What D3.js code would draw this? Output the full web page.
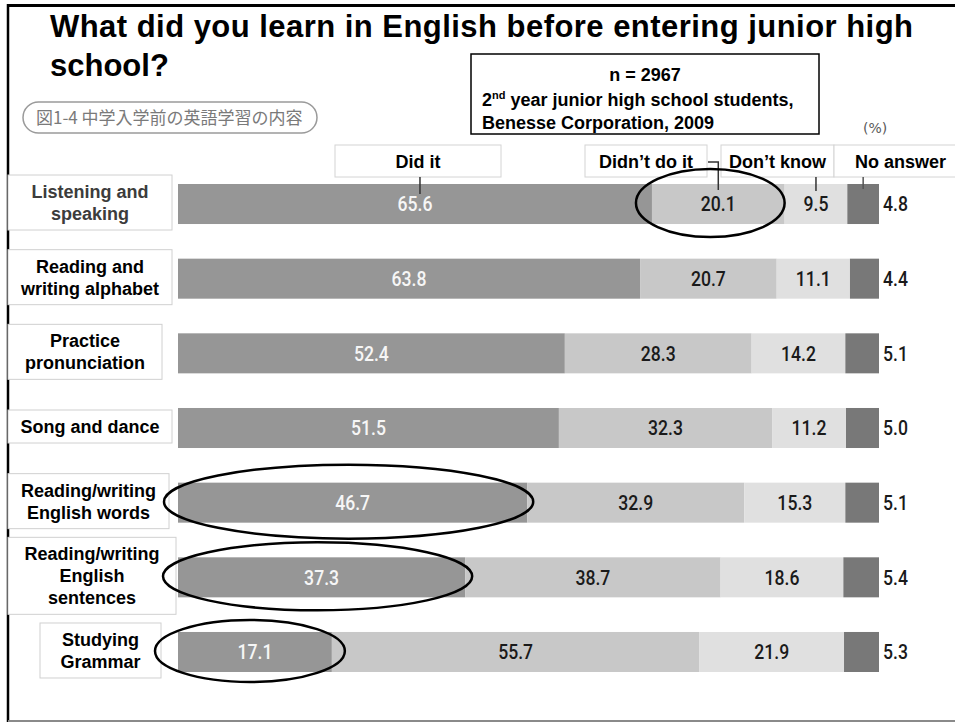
<!DOCTYPE html>
<html>
<head>
<meta charset="utf-8">
<script src="https://cdn.jsdelivr.net/npm/d3@7"></script>
<style>
  html, body { margin: 0; padding: 0; background: #fff; }
  svg { display: block; }
</style>
</head>
<body>
<svg id="chart" width="955" height="722"></svg>
<script>
// ---- data -------------------------------------------------------------
const categories = [
  "Listening and speaking",
  "Reading and writing alphabet",
  "Practice pronunciation",
  "Song and dance",
  "Reading/writing English words",
  "Reading/writing English sentences",
  "Studying Grammar"
];
const categoryLines = [
  ["Listening and", "speaking"],
  ["Reading and", "writing alphabet"],
  ["Practice", "pronunciation"],
  ["Song and dance"],
  ["Reading/writing", "English words"],
  ["Reading/writing", "English", "sentences"],
  ["Studying", "Grammar"]
];
const seriesNames = ["Did it", "Didn\u2019t do it", "Don\u2019t know", "No answer"];
const didIt    = [65.6, 63.8, 52.4, 51.5, 46.7, 37.3, 17.1];
const didntDo  = [20.1, 20.7, 28.3, 32.3, 32.9, 38.7, 55.7];
const dontKnow = [9.5, 11.1, 14.2, 11.2, 15.3, 18.6, 21.9];
const noAnswer = [4.8, 4.4, 5.1, 5.0, 5.1, 5.4, 5.3];

// circled segments: [category, series]
const highlights = [
  ["Listening and speaking", "Didn\u2019t do it"],
  ["Reading/writing English words", "Did it"],
  ["Reading/writing English sentences", "Did it"],
  ["Studying Grammar", "Did it"]
];

const titleLines = ["What did you learn in English before entering junior high", "school?"];
const figureTag = "\u56f31-4 \u4e2d\u5b66\u5165\u5b66\u524d\u306e\u82f1\u8a9e\u5b66\u7fd2\u306e\u5185\u5bb9";
const unitLabel = "(%)";

// ---- layout -----------------------------------------------------------
const svg = d3.select("#chart");
const W = 955, H = 722;
const ARIAL = "'Liberation Sans', Arial, Helvetica, sans-serif";
const NUMFONT = "Roboto, 'Liberation Sans', sans-serif";
const colors = ["#969696", "#c8c8c8", "#e0e0e0", "#787878"];

const x = d3.scaleLinear().domain([0, 100]).range([219, 879]);
const lead = 41;                       // first segment starts left of the zero line
const y = d3.scaleBand().domain(categories).range([184, 672])
  .paddingInner(0.464).paddingOuter(0);

const seriesValues = [didIt, didntDo, dontKnow, noAnswer];
const rows = categories.map((c, i) => {
  let acc = 0;
  const segs = seriesNames.map((s, k) => {
    const v = seriesValues[k][i];
    const seg = { category: c, series: s, k, value: v, x0: acc, x1: acc + v };
    acc += v;
    return seg;
  });
  return { category: c, i, segs };
});
const segLeft = d => d.k === 0 ? x(0) - lead : x(d.x0);
const segRight = d => x(d.x1);
const segMid = d => (segLeft(d) + segRight(d)) / 2;

// ---- frame ------------------------------------------------------------
svg.append("line").attr("x1", 7).attr("x2", W).attr("y1", 5.5).attr("y2", 5.5)
  .attr("stroke", "#000").attr("stroke-width", 3);
svg.append("line").attr("x1", 8).attr("x2", 8).attr("y1", 4).attr("y2", H)
  .attr("stroke", "#000").attr("stroke-width", 2.5);
svg.append("line").attr("x1", 8).attr("x2", W).attr("y1", 721).attr("y2", 721)
  .attr("stroke", "#8a8a8a").attr("stroke-width", 2);

// ---- title ------------------------------------------------------------
svg.append("g").selectAll("text").data(titleLines).join("text")
  .attr("x", 50).attr("y", (d, i) => 37 + i * 39)
  .attr("font-family", ARIAL).attr("font-weight", "bold").attr("font-size", 31)
  .attr("fill", "#000")
  .each(function (d, i) {
    if (i === 0) d3.select(this).attr("textLength", 863).attr("lengthAdjust", "spacing");
  })
  .text(d => d);

// figure tag (rounded badge)
svg.append("rect").attr("x", 23).attr("y", 102).attr("width", 294).attr("height", 31)
  .attr("rx", 15.5).attr("fill", "#fff").attr("stroke", "#9a9a9a").attr("stroke-width", 1.5);
svg.append("text").attr("x", 36).attr("y", 118).attr("dy", "0.35em")
  .attr("font-family", "'Noto Sans CJK JP', 'Noto Sans', sans-serif").attr("font-size", 17)
  .attr("fill", "#7a7a7a").text(figureTag);

// info box
const info = svg.append("g");
info.append("rect").attr("x", 471).attr("y", 54).attr("width", 348).attr("height", 80)
  .attr("fill", "#fff").attr("stroke", "#000").attr("stroke-width", 1.5);
info.append("text").attr("x", 645).attr("y", 81).attr("text-anchor", "middle")
  .attr("font-family", ARIAL).attr("font-weight", "bold").attr("font-size", 18)
  .attr("fill", "#000").text("n = 2967");
const l2 = info.append("text").attr("x", 482).attr("y", 106).attr("font-family", ARIAL)
  .attr("font-weight", "bold").attr("font-size", 18).attr("fill", "#000");
l2.append("tspan").text("2");
l2.append("tspan").attr("font-size", 11).attr("dy", -7).text("nd");
l2.append("tspan").attr("dy", 7).text(" year junior high school students,");
info.append("text").attr("x", 482).attr("y", 129).attr("font-family", ARIAL)
  .attr("font-weight", "bold").attr("font-size", 18).attr("fill", "#000")
  .text("Benesse Corporation, 2009");

svg.append("text").attr("x", 863).attr("y", 128).attr("dy", "0.35em")
  .attr("font-family", "'DejaVu Sans', sans-serif").attr("font-size", 14)
  .attr("fill", "#5a5a5a").text(unitLabel);

// ---- legend boxes with leader lines ----------------------------------
const legendBoxes = [[335, 501], [585, 707], [721, 834], [834, 967]];
const legendTop = 145, legendBottom = 177;
const leg = svg.append("g");
leg.selectAll("rect").data(seriesNames).join("rect")
  .attr("x", (d, i) => legendBoxes[i][0]).attr("y", legendTop)
  .attr("width", (d, i) => legendBoxes[i][1] - legendBoxes[i][0])
  .attr("height", legendBottom - legendTop)
  .attr("fill", "#fff").attr("stroke", "#d4d4d4").attr("stroke-width", 1);
leg.selectAll("text").data(seriesNames).join("text")
  .attr("x", (d, i) => (legendBoxes[i][0] + legendBoxes[i][1]) / 2)
  .attr("y", 168).attr("text-anchor", "middle")
  .attr("font-family", ARIAL).attr("font-weight", "bold").attr("font-size", 18)
  .attr("fill", "#000").text(d => d);

// ---- bars ------------------------------------------------------------
const barG = svg.append("g");
const rowG = barG.selectAll("g.row").data(rows).join("g").attr("class", "row");
rowG.selectAll("rect").data(d => d.segs).join("rect")
  .attr("x", segLeft).attr("width", d => segRight(d) - segLeft(d))
  .attr("y", d => y(d.category)).attr("height", y.bandwidth())
  .attr("fill", d => colors[d.k]);

// leader lines from legend to first row
const first = rows[0].segs;
const bt = y(categories[0]);
const leaders = [
  { d: `M${segMid(first[0]) + 5},${legendBottom}V${bt + 10}`, c: "#333" },
  { d: `M${legendBoxes[1][1] + 1},162H${segMid(first[1])}V${bt + 6}`, c: "#333" },
  { d: `M${segMid(first[2])},${legendBottom}V${bt + 7}`, c: "#333" },
  { d: `M${segMid(first[3])},${legendBottom}V${bt + 5}`, c: "#555" }
];
svg.append("g").selectAll("path").data(leaders).join("path")
  .attr("d", d => d.d).attr("fill", "none").attr("stroke", d => d.c).attr("stroke-width", 1.5);

// value labels (condensed numerals)
rowG.selectAll("text").data(d => d.segs).join("text")
  .attr("transform", d => {
    const tx = d.k === 3 ? x(100) + 4 : segMid(d);
    const ty = y(d.category) + y.bandwidth() / 2;
    return `translate(${tx},${ty}) scale(0.86,1)`;
  })
  .attr("dy", "0.36em")
  .attr("text-anchor", d => d.k === 3 ? "start" : "middle")
  .attr("font-family", NUMFONT).attr("font-weight", 500).attr("font-size", 20.5)
  .attr("fill", d => d.k === 0 ? "#f6f6f6" : "#1a1a1a")
  .text(d => d.value.toFixed(1));

// ---- category label boxes -------------------------------------------
const labelBoxX = [[8, 172], [8, 172], [8, 162], [8, 172], [8, 169], [8, 176], [40, 161]];
const lineH = 22;
const catG = svg.append("g").selectAll("g").data(rows).join("g");
catG.append("rect")
  .attr("x", d => labelBoxX[d.i][0])
  .attr("width", d => labelBoxX[d.i][1] - labelBoxX[d.i][0])
  .attr("y", d => y(d.category) + y.bandwidth() / 2 - 1.5 - (categoryLines[d.i].length * lineH + 11) / 2)
  .attr("height", d => categoryLines[d.i].length * lineH + 11)
  .attr("fill", "#fff").attr("stroke", "#d0d0d0").attr("stroke-width", 1);
catG.each(function (d) {
  const lines = categoryLines[d.i];
  const cy = y(d.category) + y.bandwidth() / 2 - 1.5;
  const cx = (labelBoxX[d.i][0] + labelBoxX[d.i][1]) / 2;
  d3.select(this).selectAll("text").data(lines).join("text")
    .attr("x", cx)
    .attr("y", (t, j) => cy + (j - (lines.length - 1) / 2) * lineH + 6.5)
    .attr("text-anchor", "middle")
    .attr("font-family", ARIAL).attr("font-weight", "bold").attr("font-size", 18)
    .attr("fill", d.i === 0 ? "#3c3c3c" : "#000")
    .text(t => t);
});

// ---- highlight ellipses ----------------------------------------------
const ellipseStyle = [
  { dx: -8, pad: 8, ry: 34 },
  { dx: -4, pad: 10, ry: 37 },
  { dx: -4, pad: 11, ry: 34 },
  { dx: -5, pad: 18, ry: 31 }
];
const hl = highlights.map(([c, s], j) => {
  const seg = rows[categories.indexOf(c)].segs[seriesNames.indexOf(s)];
  const st = ellipseStyle[j];
  return {
    cx: segMid(seg) + st.dx,
    cy: y(c) + y.bandwidth() / 2 - 1,
    rx: (segRight(seg) - segLeft(seg)) / 2 + st.pad,
    ry: st.ry
  };
});
svg.append("g").selectAll("ellipse").data(hl).join("ellipse")
  .attr("cx", d => d.cx).attr("cy", d => d.cy).attr("rx", d => d.rx).attr("ry", d => d.ry)
  .attr("fill", "none").attr("stroke", "#000").attr("stroke-width", 2.5);
</script>
</body>
</html>
